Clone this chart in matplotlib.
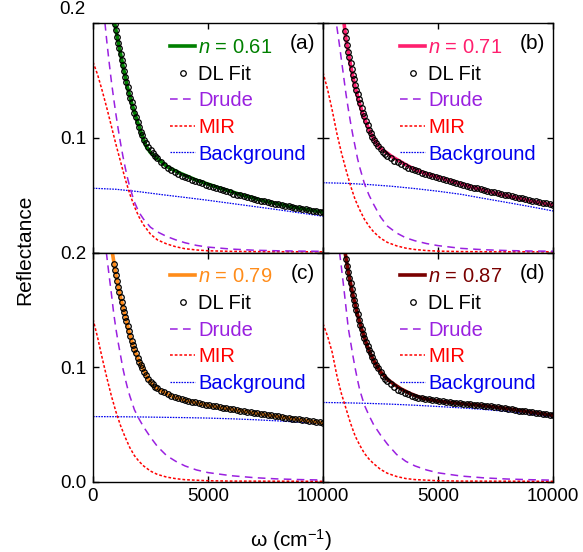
import numpy as np
import matplotlib
matplotlib.use("Agg")
import matplotlib.pyplot as plt

plt.rcParams["font.family"] = ["Liberation Sans", "DejaVu Sans"]
plt.rcParams["mathtext.fontset"] = "custom"
plt.rcParams["mathtext.rm"] = "Liberation Sans"
plt.rcParams["mathtext.it"] = "Liberation Sans:italic"

nan = np.nan

n_values = ["0.61", "0.71", "0.79", "0.87"]
panel_tags = ["(a)", "(b)", "(c)", "(d)"]
data_colors = ["#008000", "#ff1f6e", "#ff8c1a", "#7a0000"]
drude_color = "#9a20e0"
mir_color = "#ff0000"
bg_color = "#0000ee"

# omega grid of the DL fit points (shared by all panels)
w_fit = [900, 950, 1000, 1050, 1100, 1150, 1200, 1250, 1300, 1350, 1400, 1450, 1500,
         1560, 1620, 1680, 1740, 1800, 1870, 1940, 2010, 2080, 2150, 2230, 2310,
         2400, 2500, 2600, 2700, 2800,
         2950, 3100, 3250, 3400, 3550, 3700, 3850, 4000, 4150, 4300, 4450, 4600,
         4750, 4900, 5050, 5200, 5350, 5500, 5650, 5800, 5950, 6100, 6250, 6400,
         6550, 6700, 6850, 7000, 7150, 7300, 7450, 7600, 7750, 7900, 8050, 8200,
         8350, 8500, 8650, 8800, 8950, 9100, 9250, 9400, 9550, 9700, 9850, 10000]

fit_a = [nan, 0.199, 0.194, 0.188, 0.183, 0.178, 0.173, 0.168, 0.163, 0.158, 0.153, 0.149, 0.144,
         0.139, 0.135, 0.131, 0.127, 0.122, 0.118, 0.114, 0.109, 0.105, 0.102, 0.098, 0.095,
         0.092, 0.089, 0.0865, 0.084, 0.082,
         0.079, 0.0765, 0.074, 0.072, 0.070, 0.0685, 0.067, 0.066,
         0.0648, 0.0636, 0.0625, 0.0614, 0.0603, 0.0592, 0.0581, 0.0571,
         0.0561, 0.0551, 0.0541, 0.0532, 0.0523, 0.0514, 0.0505, 0.0497,
         0.0489, 0.0481, 0.0474, 0.0467, 0.0460, 0.0453, 0.0446, 0.0439,
         0.0432, 0.0426, 0.0420, 0.0414, 0.0408, 0.0402, 0.0396, 0.0391,
         0.0386, 0.0381, 0.0376, 0.0371, 0.0366, 0.0361, 0.0356, 0.0351]
fit_b = [nan, 0.193, 0.187, 0.181, 0.175, 0.170, 0.165, 0.160, 0.155, 0.151, 0.146, 0.142, 0.138,
         0.1335, 0.130, 0.126, 0.122, 0.119, 0.115, 0.111, 0.107, 0.104, 0.101, 0.098, 0.095,
         0.0925, 0.090, 0.088, 0.086, 0.0845,
         0.082, 0.080, 0.0785, 0.077, 0.0755, 0.074, 0.0728, 0.0717,
         0.0706, 0.0696, 0.0686, 0.0676, 0.0666, 0.0657, 0.0648, 0.0639,
         0.0630, 0.0622, 0.0614, 0.0606, 0.0598, 0.0590, 0.0582, 0.0574,
         0.0566, 0.0559, 0.0552, 0.0545, 0.0538, 0.0531, 0.0524, 0.0517,
         0.0510, 0.0504, 0.0497, 0.0490, 0.0484, 0.0477, 0.0471, 0.0464,
         0.0458, 0.0452, 0.0446, 0.0440, 0.0434, 0.0428, 0.0422, 0.0416]
fit_c = [0.190, 0.185, 0.180, 0.175, 0.170, 0.1655, 0.161, 0.1565, 0.152, 0.148, 0.144, 0.140, 0.136,
         0.1315, 0.127, 0.123, 0.119, 0.1155, 0.112, 0.108, 0.105, 0.102, 0.099, 0.096, 0.093,
         0.090, 0.0875, 0.085, 0.083, 0.0815,
         0.0795, 0.078, 0.0765, 0.075, 0.074, 0.073, 0.072, 0.0713,
         0.0706, 0.0699, 0.0693, 0.0687, 0.0681, 0.0675, 0.0669, 0.0663,
         0.0658, 0.0653, 0.0648, 0.0643, 0.0638, 0.0633, 0.0628, 0.0623,
         0.0618, 0.0613, 0.0608, 0.0603, 0.0599, 0.0594, 0.0590, 0.0585,
         0.0580, 0.0576, 0.0571, 0.0567, 0.0562, 0.0558, 0.0553, 0.0549,
         0.0545, 0.0541, 0.0536, 0.0532, 0.0528, 0.0524, 0.0520, 0.0516]
fit_d = [nan, nan, 0.194, 0.188, 0.183, 0.178, 0.173, 0.168, 0.163, 0.159, 0.154, 0.150, 0.146,
         0.141, 0.137, 0.133, 0.129, 0.1255, 0.122, 0.1185, 0.115, 0.112, 0.109, 0.1055, 0.102,
         0.099, 0.0955, 0.0925, 0.090, 0.088,
         0.085, 0.0825, 0.0805, 0.079, 0.0775, 0.0763, 0.0752, 0.0743,
         0.0736, 0.0730, 0.0725, 0.0720, 0.0715, 0.0711, 0.0707, 0.0703,
         0.0699, 0.0695, 0.0692, 0.0689, 0.0686, 0.0683, 0.0680, 0.0677,
         0.0674, 0.0671, 0.0668, 0.0665, 0.0662, 0.0658, 0.0654, 0.0650,
         0.0646, 0.0641, 0.0637, 0.0632, 0.0628, 0.0623, 0.0619, 0.0615,
         0.0611, 0.0607, 0.0603, 0.0599, 0.0594, 0.0590, 0.0586, 0.0581]

# measured reflectance
w_data_a = [940, 1100, 1300, 1500, 1700, 1900, 2100, 2300, 2500, 2800, 3200, 3800, 4500, 5500, 6500, 7500, 8500, 9500, 10000]
r_data_a = [0.200, 0.183, 0.163, 0.144, 0.129, 0.116, 0.104, 0.093, 0.087, 0.082, 0.075, 0.069, 0.063, 0.0562, 0.0500, 0.0446, 0.0404, 0.0368, 0.0352]
w_data_b = [913, 1000, 1200, 1400, 1600, 1800, 2000, 2200, 2400, 2600, 2800, 3000, 3300, 3600, 4000, 4500, 5500, 6500, 7500, 8500, 9500, 10000]
r_data_b = [0.200, 0.186, 0.163, 0.144, 0.129, 0.117, 0.107, 0.099, 0.093, 0.089, 0.0865, 0.0835, 0.080, 0.0765, 0.0722, 0.0685, 0.0625, 0.0568, 0.0517, 0.0473, 0.0431, 0.0414]
w_data_c = [840, 1000, 1200, 1400, 1600, 1800, 2000, 2200, 2400, 2700, 3000, 3500, 4000, 5000, 6000, 7000, 8000, 9000, 10000]
r_data_c = [0.200, 0.180, 0.161, 0.1445, 0.1285, 0.1155, 0.1055, 0.0975, 0.0895, 0.0825, 0.0790, 0.0742, 0.0712, 0.0667, 0.0634, 0.0602, 0.0571, 0.0543, 0.0514]
w_data_d = [960, 1100, 1300, 1500, 1700, 1900, 2100, 2300, 2500, 2800, 3100, 3400, 3800, 4300, 5000, 6000, 7000, 8000, 9000, 10000]
r_data_d = [0.200, 0.183, 0.163, 0.146, 0.132, 0.120, 0.110, 0.1025, 0.096, 0.0895, 0.085, 0.081, 0.077, 0.0731, 0.0705, 0.0683, 0.0665, 0.0640, 0.0610, 0.0581]

# Drude component
w_drude_a = [520, 600, 700, 800, 900, 1000, 1100, 1200, 1300, 1400, 1500, 1600, 1800, 2000, 2200, 2500, 2800, 3200, 3600, 4000, 4500, 5000, 6000, 7000, 8000, 9000, 10000]
r_drude_a = [0.200, 0.184, 0.166, 0.149, 0.134, 0.120, 0.107, 0.095, 0.084, 0.074, 0.065, 0.057, 0.044, 0.035, 0.029, 0.022, 0.018, 0.014, 0.011, 0.0085, 0.0062, 0.0047, 0.0030, 0.0020, 0.0015, 0.0012, 0.0010]
w_drude_b = [600, 700, 800, 900, 1000, 1100, 1200, 1300, 1400, 1500, 1600, 1800, 2000, 2200, 2500, 2800, 3200, 3600, 4000, 4500, 5000, 6000, 7000, 8000, 9000, 10000]
r_drude_b = [0.197, 0.183, 0.168, 0.153, 0.138, 0.125, 0.113, 0.102, 0.092, 0.082, 0.074, 0.060, 0.050, 0.042, 0.031, 0.023, 0.017, 0.0128, 0.0102, 0.0078, 0.0060, 0.0036, 0.0024, 0.0017, 0.0013, 0.0011]
w_drude_c = [580, 700, 800, 900, 1000, 1100, 1200, 1300, 1400, 1500, 1600, 1800, 2000, 2200, 2500, 2800, 3200, 3600, 4000, 4500, 5000, 6000, 7000, 8000, 9000, 10000]
r_drude_c = [0.200, 0.180, 0.164, 0.147, 0.133, 0.121, 0.110, 0.099, 0.090, 0.082, 0.075, 0.063, 0.055, 0.048, 0.039, 0.031, 0.023, 0.018, 0.014, 0.0105, 0.0082, 0.0055, 0.0038, 0.0027, 0.0021, 0.0017]
w_drude_d = [720, 800, 900, 1000, 1100, 1200, 1300, 1400, 1500, 1600, 1800, 2000, 2200, 2500, 2800, 3200, 3600, 4000, 4500, 5000, 6000, 7000, 8000, 9000, 10000]
r_drude_d = [0.200, 0.187, 0.170, 0.152, 0.134, 0.122, 0.110, 0.099, 0.089, 0.080, 0.067, 0.058, 0.050, 0.041, 0.033, 0.024, 0.018, 0.0140, 0.0105, 0.0080, 0.0052, 0.0036, 0.0026, 0.0020, 0.0016]

# mid-infrared band
w_mir_a = [0, 200, 400, 600, 800, 1000, 1200, 1400, 1600, 1800, 2000, 2200, 2500, 2800, 3200, 3600, 4000, 4500, 5000, 6000, 7000, 8000, 10000]
r_mir_a = [0.166, 0.155, 0.141, 0.126, 0.110, 0.094, 0.079, 0.064, 0.051, 0.040, 0.031, 0.024, 0.016, 0.011, 0.0075, 0.0050, 0.0033, 0.0022, 0.0015, 0.0010, 0.0008, 0.0007, 0.0006]
w_mir_b = [0, 200, 400, 600, 800, 1000, 1200, 1400, 1600, 1800, 2000, 2200, 2500, 2800, 3200, 3600, 4000, 4500, 5000, 6000, 7000, 10000]
r_mir_b = [0.157, 0.142, 0.124, 0.104, 0.087, 0.072, 0.058, 0.046, 0.037, 0.029, 0.023, 0.018, 0.0125, 0.0088, 0.0058, 0.0038, 0.0026, 0.0017, 0.0012, 0.0008, 0.0007, 0.0006]
w_mir_c = [0, 200, 400, 600, 800, 1000, 1200, 1400, 1600, 1800, 2000, 2200, 2500, 2800, 3200, 3600, 4000, 5000, 6000, 10000]
r_mir_c = [0.142, 0.126, 0.108, 0.091, 0.075, 0.061, 0.049, 0.039, 0.030, 0.023, 0.018, 0.014, 0.0095, 0.0066, 0.0043, 0.0029, 0.0020, 0.0011, 0.0008, 0.0006]
w_mir_d = [0, 200, 400, 600, 800, 1000, 1200, 1400, 1600, 1800, 2000, 2200, 2500, 2800, 3200, 3600, 4000, 5000, 6000, 10000]
r_mir_d = [0.138, 0.127, 0.113, 0.093, 0.077, 0.064, 0.051, 0.040, 0.032, 0.025, 0.020, 0.016, 0.0110, 0.0076, 0.0048, 0.0030, 0.0021, 0.0011, 0.0008, 0.0006]

# background (interband) contribution
w_bg = [0, 1000, 2000, 3000, 4000, 5000, 6000, 7000, 8000, 9000, 10000]
r_bg_a = [0.0560, 0.0551, 0.0530, 0.0504, 0.0480, 0.0455, 0.0428, 0.0401, 0.0374, 0.0345, 0.0316]
r_bg_b = [0.0608, 0.0603, 0.0592, 0.0577, 0.0557, 0.0534, 0.0507, 0.0471, 0.0436, 0.0400, 0.0362]
r_bg_c = [0.0570, 0.0569, 0.0567, 0.0564, 0.0561, 0.0557, 0.0551, 0.0543, 0.0533, 0.0521, 0.0506]
r_bg_d = [0.0693, 0.0690, 0.0685, 0.0678, 0.0669, 0.0658, 0.0646, 0.0632, 0.0615, 0.0593, 0.0566]

panels = [
    (w_data_a, r_data_a, fit_a, w_drude_a, r_drude_a, w_mir_a, r_mir_a, r_bg_a),
    (w_data_b, r_data_b, fit_b, w_drude_b, r_drude_b, w_mir_b, r_mir_b, r_bg_b),
    (w_data_c, r_data_c, fit_c, w_drude_c, r_drude_c, w_mir_c, r_mir_c, r_bg_c),
    (w_data_d, r_data_d, fit_d, w_drude_d, r_drude_d, w_mir_d, r_mir_d, r_bg_d),
]

W, H = 583, 552
fig = plt.figure(figsize=(W / 100, H / 100), dpi=100)

# axes boxes in pixels: left, top, width, height
boxes = [(93, 23, 230, 229.5), (323, 23, 230, 229.5),
         (93, 252.5, 230, 229.5), (323, 252.5, 230, 229.5)]


def draw_panel(ax, i, w_data, r_data, r_fit, w_dr, r_dr, w_mir, r_mir, r_bg):
    l_bg, = ax.plot(w_bg, r_bg, color=bg_color, lw=0.9, ls=(0, (1.3, 0.9)))
    l_mir, = ax.plot(w_mir, r_mir, color=mir_color, lw=1.1, ls=(0, (1.8, 1.3)))
    l_dr, = ax.plot(w_dr, r_dr, color=drude_color, lw=1.1, ls=(0, (5, 3.5)))
    l_data, = ax.plot(w_data, r_data, color=data_colors[i], lw=2.6)
    l_fit, = ax.plot(w_fit, r_fit, ls="none", marker="o", ms=4.0,
                     mfc="none", mec="black", mew=0.9)

    ax.set_xlim(0, 10000)
    ax.set_ylim(0, 0.2)
    ax.set_xticks([0, 5000, 10000])
    ax.set_yticks([0, 0.1, 0.2])
    ax.tick_params(direction="in", top=True, right=True, length=4, width=1,
                   labelsize=13.5)
    ax.tick_params(axis="y", pad=5)
    ax.tick_params(axis="x", pad=4)
    for sp in ax.spines.values():
        sp.set_linewidth(1)

    leg = ax.legend([l_data, l_fit, l_dr, l_mir, l_bg],
                    [f"$n$ = {n_values[i]}", "DL Fit", "Drude", "MIR", "Background"],
                    loc="upper left", bbox_to_anchor=(0.335, 0.935), frameon=False,
                    borderpad=0, borderaxespad=0, handlelength=1.25,
                    handletextpad=0.15, labelspacing=0.38, numpoints=1,
                    fontsize=14.5)
    for txt, c in zip(leg.get_texts(),
                      [data_colors[i], "black", drude_color, mir_color, bg_color]):
        txt.set_color(c)

    ax.text(0.965, 0.91, panel_tags[i], transform=ax.transAxes, ha="right",
            va="center", fontsize=15)


for i, (box, p) in enumerate(zip(boxes, panels)):
    x0, y0, w, h = box
    ax = fig.add_axes([x0 / W, 1 - (y0 + h) / H, w / W, h / H])
    draw_panel(ax, i, *p)
    top = i < 2
    left = i % 2 == 0
    if top:
        ax.set_xticklabels([])
    else:
        ax.set_xticklabels(["0" if left else "", "5000", "10000"])
    if not left:
        ax.set_yticklabels([])
    elif top:
        ax.set_yticklabels(["", "0.1", ""])
        ax.annotate("0.2", xy=(0, 1), xycoords="axes fraction", xytext=(-5.5, 9.5),
                    textcoords="offset points", ha="right", va="center", fontsize=13.5)
    else:
        ax.set_yticklabels(["0.0", "0.1", "0.2"])

fig.text(25 / W, 1 - 250 / H, "Reflectance", rotation=90, ha="center", va="center",
         fontsize=15)
fig.text(291 / W, 1 - 540 / H, "ω (cm$^{-1}$)", ha="center", va="center", fontsize=15)

fig.savefig("out.png", dpi=100)
